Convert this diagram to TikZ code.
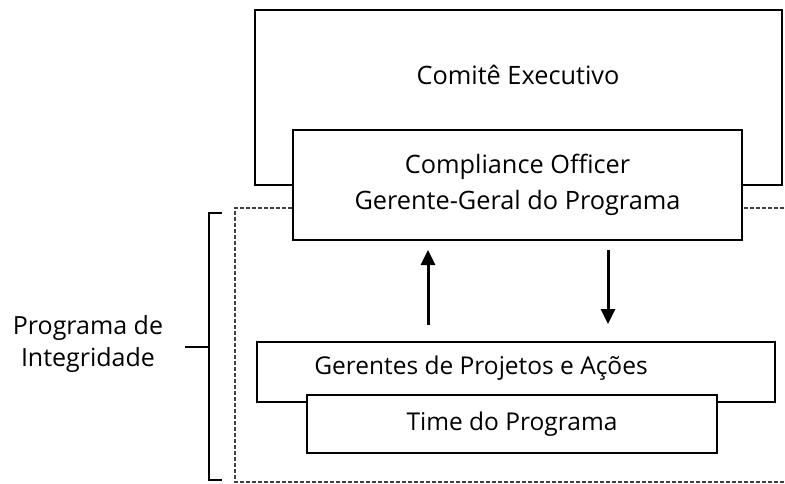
\documentclass[tikz,border=0pt]{standalone}
\usepackage{fontspec}
\setmainfont{Open Sans}
\usetikzlibrary{arrows.meta}
\tikzstyle{box}=[shape=rectangle,
	       draw=black,
	       fill=white,
	       line width=1.9pt,
	       inner sep=0pt]
\tikzstyle{txt}=[font=\fontsize{25.3}{36}\selectfont, align=center]
\tikzstyle{small}=[font=\fontsize{24.5}{32}\selectfont, align=center]
\tikzstyle{flow}=[line width=3pt, -{Triangle[width=14pt,length=15pt]}]

\begin{document}
\begin{tikzpicture}[x=1pt,y=-1pt]
\useasboundingbox (0,0) rectangle (785,484);

% top box with its title
\node[box, minimum width=527, minimum height=175] (comite) at (518.5,97.5) {};
\node[txt] (comitetxt) at (518,75) {Comitê Executivo};

% dashed outline of the programme
\draw[gray!50!black, line width=2.2pt, dash pattern=on 4pt off 2pt]
  (790,208) -- (235,208) -- (235,482) -- (790,482);

% compliance officer box sits over the outline
\node[box, txt, minimum width=449, minimum height=110] (officer) at (517.5,185)
  {Compliance Officer\\Gerente-Geral do Programa};

% lower boxes
\node[box, minimum width=518, minimum height=60,
      label={[small, xshift=-35pt, yshift=4pt]center:Gerentes de Projetos e Ações}] (gerentes) at (516,372) {};
\node[box, small, minimum width=410, minimum height=58] (time) at (512,424) {Time do Programa};

% arrows between officer and managers
\coordinate (upfrom) at (428,325);
\coordinate (upto) at (428,250);
\coordinate (downfrom) at (608,250);
\coordinate (downto) at (608,324);
\draw[flow] (upfrom) -- (upto);
\draw[flow] (downfrom) -- (downto);

% bracket with its label
\node[txt, font=\fontsize{25}{32}\selectfont] (programa) at (88,344) {Programa de\\Integridade};
\draw[line width=1.9pt] (222,213) -- (209,213) -- (209,480) -- (222,480);
\draw[line width=1.9pt] (185,347) -- (209,347);

\end{tikzpicture}
\end{document}
